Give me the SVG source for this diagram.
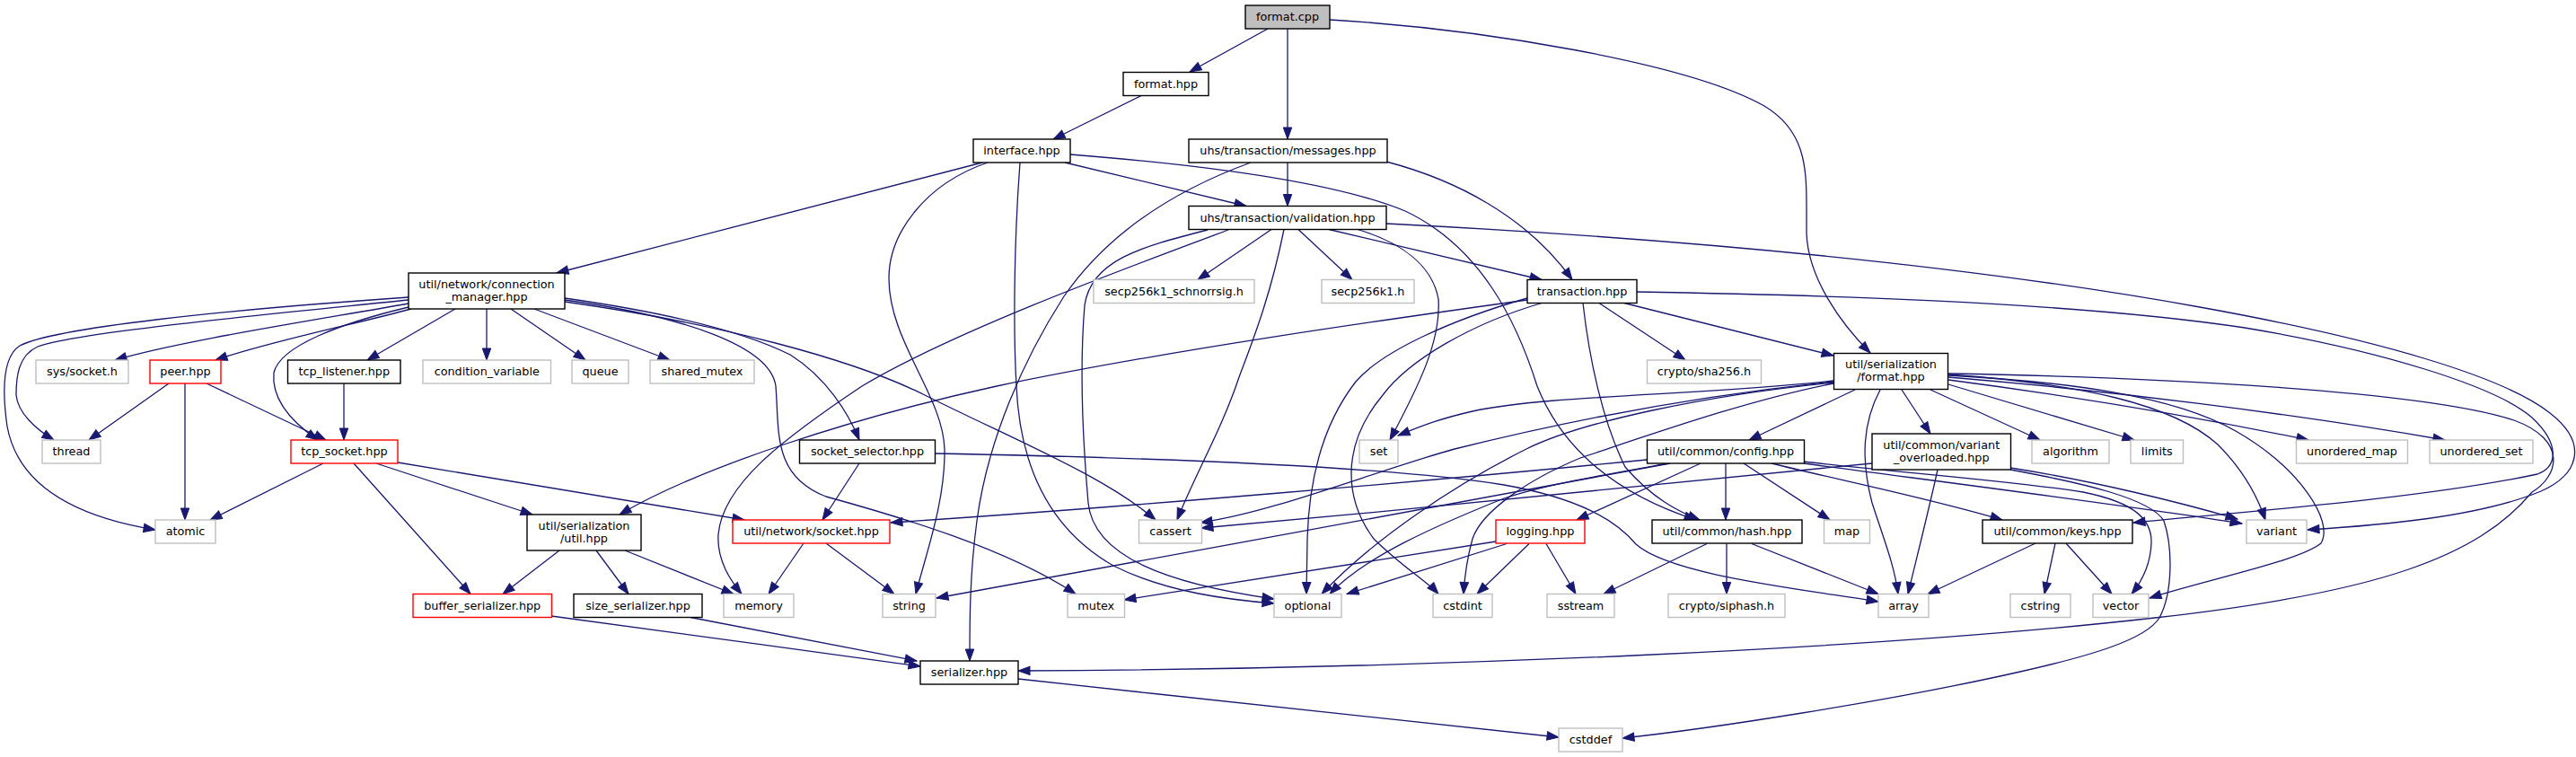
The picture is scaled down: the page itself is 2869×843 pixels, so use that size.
<svg xmlns="http://www.w3.org/2000/svg" width="2869" height="843" viewBox="0 0 2869 843">
<style>
.e path{fill:none;stroke:#191970;stroke-width:1.3;marker-end:url(#a)}
rect{fill:#fff;stroke:#000;stroke-width:1.4}
.g rect{stroke:#bfbfbf}
.r rect{stroke:#ff0000}
.s rect{fill:#bfbfbf}
text{font-family:"DejaVu Sans","Liberation Sans",sans-serif;font-size:12.8px;text-anchor:middle;fill:#000}
</style>
<defs>
<marker id="a" markerUnits="userSpaceOnUse" markerWidth="15" markerHeight="12" refX="13" refY="5" orient="auto" overflow="visible">
<path d="M0,0.3 L13,5 L0,9.7 z" fill="#191970" stroke="#191970" stroke-width="1"/>
</marker>
</defs>
<rect x="0" y="0" width="2869" height="843" style="fill:#fff;stroke:none"/>
<g id="edges" class="e">
<path d="M1412,32 L1325,80"/>
<path d="M1434,32 L1434,155"/>
<path d="M1481,22 C1650,32 1880,70 1965,118 C2010,145 2012,185 2012,230 L2012,260 C2014,310 2050,360 2083,393"/>
<path d="M1272,106 L1173,155"/>
<path d="M1186,181 L1388,229.5"/>
<path d="M1094,181 L620,304"/>
<path d="M1100,181 C1030,205 990,260 990,310 C990,380 1050,440 1052,500 C1053,560 1030,620 1020,661.5"/>
<path d="M1136,181 C1130,260 1128,360 1132,430 C1136,520 1170,590 1240,630 C1300,660 1370,668 1419,672"/>
<path d="M1192,172 C1320,182 1480,200 1565,235 C1650,275 1690,360 1712,430 C1740,500 1800,550 1889,579"/>
<path d="M1434,181 L1434,229.5"/>
<path d="M1544,180 C1620,200 1700,240 1751,311.5"/>
<path d="M1393,181 C1300,215 1230,265 1185,330 C1140,400 1100,490 1088,580 C1080,640 1080,690 1080,736"/>
<path d="M1480,255.5 L1717,311.5"/>
<path d="M1416,255.5 L1334,311.5"/>
<path d="M1446,255.5 L1506,311.5"/>
<path d="M1430,255.5 C1415,330 1395,380 1380,420 C1360,480 1330,530 1311,579"/>
<path d="M1512,255.5 C1560,270 1595,295 1602,333 C1605,380 1580,430 1548,490"/>
<path d="M1345,256 C1270,275 1215,290 1208,340 C1203,400 1205,480 1212,560 C1218,620 1300,650 1419,667"/>
<path d="M1368,256 C1250,300 1060,370 960,430 C870,490 805,540 800,595 C798,625 815,648 826,661.5"/>
<path d="M1544,249 C1800,262 2150,288 2450,342 C2650,378 2790,420 2840,460 C2885,495 2870,530 2830,547 C2760,576 2650,585 2570,590"/>
<path d="M455,331 C250,345 60,365 22,385 C2,398 3,440 8,475 C22,550 100,578 173,590"/>
<path d="M455,334 C300,350 85,370 42,386 C20,396 18,420 18,440 C20,460 40,478 60,490"/>
<path d="M455,338 C330,360 200,380 128,401"/>
<path d="M458,344 C400,360 300,380 240,401"/>
<path d="M455,342 C380,360 312,385 305,415 C302,445 325,470 354,490"/>
<path d="M507,344 L409,401"/>
<path d="M542,344 L542,401"/>
<path d="M569,344 L652,401"/>
<path d="M595,344 L746,401"/>
<path d="M629,332 C720,345 820,365 880,395 C920,420 945,460 957,490"/>
<path d="M629,334 C760,352 858,385 864,430 C868,480 860,530 920,553 C1000,575 1120,610 1198,661.5"/>
<path d="M629,336 C800,360 950,400 1030,440 C1130,490 1230,530 1287,579"/>
<path d="M188,427 L99,490"/>
<path d="M206,427 L206,579"/>
<path d="M230,427 L363,490"/>
<path d="M383,427 L383,490"/>
<path d="M360,516 L234,579"/>
<path d="M394,516 L524,661.5"/>
<path d="M419,516 L593,573"/>
<path d="M443,515 L829,579"/>
<path d="M957,516 L916,579"/>
<path d="M1042,505 C1300,510 1550,520 1675,540 C1760,555 1800,580 1822,606 C1860,640 2000,655 2092,670"/>
<path d="M623,613 L560,661.5"/>
<path d="M664,613 L700,661.5"/>
<path d="M696,613 L817,661.5"/>
<path d="M895,605 L856,661.5"/>
<path d="M920,605 L996,661.5"/>
<path d="M1781,337.5 L1877,401"/>
<path d="M1809,337.5 L2042,396"/>
<path d="M1763,337.5 C1770,400 1785,470 1810,520 C1840,555 1870,570 1893,579"/>
<path d="M1701,332 C1620,355 1540,390 1510,425 C1475,470 1458,530 1456,600 L1455,661.5"/>
<path d="M1717,337.5 C1640,360 1570,400 1540,440 C1490,500 1500,560 1530,600 C1560,630 1590,648 1602,661.5"/>
<path d="M1701,334 C1550,355 1300,390 1110,430 C950,465 780,520 690,573"/>
<path d="M1823,325 C2000,328 2300,335 2500,365 C2650,390 2780,430 2820,465 C2852,495 2848,520 2826,528 C2700,555 2500,570 2376,582"/>
<path d="M2066,434 L1948,490"/>
<path d="M2118,434 L2150,483"/>
<path d="M2094,434 C2075,470 2072,510 2085,560 C2098,600 2110,630 2114,661.5"/>
<path d="M2150,434 L2272,490"/>
<path d="M2170,428 L2377,490"/>
<path d="M2170,423 C2300,440 2450,465 2571,490"/>
<path d="M2170,420 C2350,435 2550,460 2723,490"/>
<path d="M2170,417 C2320,428 2420,450 2470,495 C2500,525 2515,555 2523,579"/>
<path d="M2170,418 C2300,425 2420,440 2490,480 C2560,520 2600,580 2585,605 C2560,625 2460,645 2394,666"/>
<path d="M2170,416 C2400,420 2700,435 2800,468 C2860,490 2850,530 2820,548 C2760,620 2650,660 2400,688 C2100,722 1600,745 1134,747"/>
<path d="M2042,424 C1900,440 1720,440 1640,458 C1600,467 1580,476 1557,485"/>
<path d="M2042,425 C1850,445 1700,480 1620,500 C1530,525 1420,570 1337,582"/>
<path d="M2042,426 C1900,440 1760,470 1700,500 C1620,540 1530,600 1472,661.5"/>
<path d="M2042,427 C1950,445 1850,480 1760,510 C1700,535 1650,570 1640,600 C1633,625 1631,645 1630,661.5"/>
<path d="M1834,512 C1600,535 1250,565 992,582"/>
<path d="M1860,516 C1700,545 1300,620 1043,666"/>
<path d="M1858,516 C1780,530 1720,540 1675,555 C1600,585 1520,620 1481,661.5"/>
<path d="M1894,516 L1756,579"/>
<path d="M1922,516 L1922,579"/>
<path d="M1942,516 L2038,579"/>
<path d="M1973,516 C2050,535 2150,555 2230,579"/>
<path d="M2009,514 C2100,525 2240,535 2320,548 C2380,560 2397,580 2396,605 C2395,630 2385,648 2374,661.5"/>
<path d="M2009,516 C2150,535 2350,560 2497,583"/>
<path d="M2085,516 C1900,535 1600,565 1338,588"/>
<path d="M2239,521 C2330,535 2430,560 2492,578"/>
<path d="M2158,523 C2150,560 2135,620 2125,661.5"/>
<path d="M2239,523 C2320,538 2395,555 2410,580 C2420,610 2420,660 2405,688 C2390,712 2330,730 2250,748 C2100,782 1900,812 1807,822"/>
<path d="M1678,605.5 L1500,661.5"/>
<path d="M1666,603 L1252,668"/>
<path d="M1703,605.5 L1645,661.5"/>
<path d="M1722,605.5 L1755,661.5"/>
<path d="M1901,605.5 L1786,661.5"/>
<path d="M1923,605.5 L1923,661.5"/>
<path d="M1951,605.5 L2092,661.5"/>
<path d="M2267,605 L2147,661.5"/>
<path d="M2289,605 L2277,661.5"/>
<path d="M2301,605 L2352,661.5"/>
<path d="M614,686 C720,700 900,725 1025,742"/>
<path d="M769,687.5 L1021,736"/>
<path d="M1134,756 C1350,780 1600,805 1736,821"/>
</g>
<g id="n_format_cpp" class="s"><rect x="1387" y="6" width="94" height="26"/><text x="1434" y="23.4">format.cpp</text></g>
<g id="n_format_hpp"><rect x="1251" y="80.5" width="95" height="26"/><text x="1298.5" y="97.9">format.hpp</text></g>
<g id="n_interface"><rect x="1084" y="155" width="108" height="26"/><text x="1138" y="172.4">interface.hpp</text></g>
<g id="n_messages"><rect x="1324" y="155" width="221" height="26"/><text x="1434.5" y="172.4">uhs/transaction/messages.hpp</text></g>
<g id="n_validation"><rect x="1324" y="229.5" width="220" height="26"/><text x="1434" y="246.9">uhs/transaction/validation.hpp</text></g>
<g id="n_connmgr"><rect x="455" y="304" width="174" height="40"/><text x="542" y="320.5">util/network/connection</text><text x="542" y="334.7">_manager.hpp</text></g>
<g id="n_schnorr" class="g"><rect x="1218" y="311.5" width="179" height="26"/><text x="1307.5" y="328.9">secp256k1_schnorrsig.h</text></g>
<g id="n_secp" class="g"><rect x="1472" y="311.5" width="103" height="26"/><text x="1523.5" y="328.9">secp256k1.h</text></g>
<g id="n_transaction"><rect x="1701" y="311.5" width="122" height="26"/><text x="1762" y="328.9">transaction.hpp</text></g>
<g id="n_sysock" class="g"><rect x="40" y="401" width="103" height="26"/><text x="91.5" y="418.4">sys/socket.h</text></g>
<g id="n_peer" class="r"><rect x="167" y="401" width="79" height="26"/><text x="206.5" y="418.4">peer.hpp</text></g>
<g id="n_tcplistener"><rect x="320.5" y="401" width="125.5" height="26"/><text x="383.25" y="418.4">tcp_listener.hpp</text></g>
<g id="n_condvar" class="g"><rect x="471" y="401" width="142.5" height="26"/><text x="542.25" y="418.4">condition_variable</text></g>
<g id="n_queue" class="g"><rect x="637" y="401" width="63" height="26"/><text x="668.5" y="418.4">queue</text></g>
<g id="n_sharedmutex" class="g"><rect x="724" y="401" width="116" height="26"/><text x="782" y="418.4">shared_mutex</text></g>
<g id="n_sha256" class="g"><rect x="1834.5" y="401" width="127" height="26"/><text x="1898" y="418.4">crypto/sha256.h</text></g>
<g id="n_serfmt"><rect x="2042.5" y="393.5" width="127" height="40"/><text x="2106" y="410">util/serialization</text><text x="2106" y="424.2">/format.hpp</text></g>
<g id="n_thread" class="g"><rect x="47" y="490" width="65" height="26"/><text x="79.5" y="507.4">thread</text></g>
<g id="n_tcpsocket" class="r"><rect x="324" y="490" width="119" height="26"/><text x="383.5" y="507.4">tcp_socket.hpp</text></g>
<g id="n_sockselector"><rect x="890.5" y="490" width="151" height="26"/><text x="966" y="507.4">socket_selector.hpp</text></g>
<g id="n_set" class="g"><rect x="1514" y="490" width="43" height="26"/><text x="1535.5" y="507.4">set</text></g>
<g id="n_config"><rect x="1834.5" y="490" width="175" height="26"/><text x="1922" y="507.4">util/common/config.hpp</text></g>
<g id="n_varover"><rect x="2085" y="483" width="154.5" height="40"/><text x="2162.25" y="499.5">util/common/variant</text><text x="2162.25" y="513.7">_overloaded.hpp</text></g>
<g id="n_algorithm" class="g"><rect x="2263" y="490" width="86" height="26"/><text x="2306" y="507.4">algorithm</text></g>
<g id="n_limits" class="g"><rect x="2373" y="490" width="58.5" height="26"/><text x="2402.25" y="507.4">limits</text></g>
<g id="n_umap" class="g"><rect x="2557.5" y="490" width="124" height="26"/><text x="2619.5" y="507.4">unordered_map</text></g>
<g id="n_uset" class="g"><rect x="2706" y="490" width="115" height="26"/><text x="2763.5" y="507.4">unordered_set</text></g>
<g id="n_atomic" class="g"><rect x="173" y="579" width="67" height="26"/><text x="206.5" y="596.4">atomic</text></g>
<g id="n_utilhpp"><rect x="587" y="573" width="127" height="40"/><text x="650.5" y="589.5">util/serialization</text><text x="650.5" y="603.7">/util.hpp</text></g>
<g id="n_socket" class="r"><rect x="816" y="579" width="175" height="26"/><text x="903.5" y="596.4">util/network/socket.hpp</text></g>
<g id="n_cassert" class="g"><rect x="1268.5" y="579" width="70" height="26"/><text x="1303.5" y="596.4">cassert</text></g>
<g id="n_logging" class="r"><rect x="1666" y="579" width="99" height="26"/><text x="1715.5" y="596.4">logging.hpp</text></g>
<g id="n_hash"><rect x="1840" y="579" width="167" height="26"/><text x="1923.5" y="596.4">util/common/hash.hpp</text></g>
<g id="n_map" class="g"><rect x="2031.5" y="579" width="51" height="26"/><text x="2057" y="596.4">map</text></g>
<g id="n_keys"><rect x="2208" y="579" width="167" height="26"/><text x="2291.5" y="596.4">util/common/keys.hpp</text></g>
<g id="n_variant" class="g"><rect x="2502" y="579" width="67" height="26"/><text x="2535.5" y="596.4">variant</text></g>
<g id="n_buffer" class="r"><rect x="460" y="661.5" width="154.5" height="26"/><text x="537.25" y="678.9">buffer_serializer.hpp</text></g>
<g id="n_size"><rect x="639" y="661.5" width="143" height="26"/><text x="710.5" y="678.9">size_serializer.hpp</text></g>
<g id="n_memory" class="g"><rect x="806" y="661.5" width="78" height="26"/><text x="845" y="678.9">memory</text></g>
<g id="n_string" class="g"><rect x="983" y="661.5" width="59" height="26"/><text x="1012.5" y="678.9">string</text></g>
<g id="n_mutex" class="g"><rect x="1189" y="661.5" width="63.5" height="26"/><text x="1220.75" y="678.9">mutex</text></g>
<g id="n_optional" class="g"><rect x="1419" y="661.5" width="75" height="26"/><text x="1456.5" y="678.9">optional</text></g>
<g id="n_cstdint" class="g"><rect x="1596" y="661.5" width="66" height="26"/><text x="1629" y="678.9">cstdint</text></g>
<g id="n_sstream" class="g"><rect x="1723" y="661.5" width="75" height="26"/><text x="1760.5" y="678.9">sstream</text></g>
<g id="n_siphash" class="g"><rect x="1858" y="661.5" width="130" height="26"/><text x="1923" y="678.9">crypto/siphash.h</text></g>
<g id="n_array" class="g"><rect x="2092" y="661.5" width="56" height="26"/><text x="2120" y="678.9">array</text></g>
<g id="n_cstring" class="g"><rect x="2239" y="661.5" width="67" height="26"/><text x="2272.5" y="678.9">cstring</text></g>
<g id="n_vector" class="g"><rect x="2331" y="661.5" width="62" height="26"/><text x="2362" y="678.9">vector</text></g>
<g id="n_serializer"><rect x="1025" y="736" width="109" height="26"/><text x="1079.5" y="753.4">serializer.hpp</text></g>
<g id="n_cstddef" class="g"><rect x="1736" y="811" width="71" height="26"/><text x="1771.5" y="828.4">cstddef</text></g>
</svg>
